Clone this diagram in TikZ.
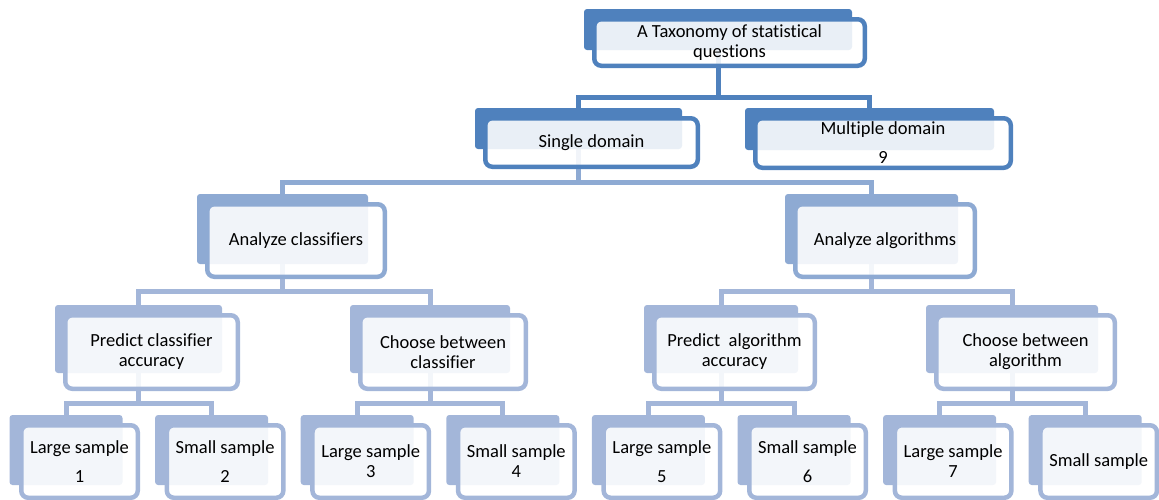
\documentclass[tikz,border=0pt]{standalone}
\usepackage{fontspec}
\setmainfont{Carlito}[Ligatures=CommonOff]
\definecolor{cA}{HTML}{4F81BD}
\definecolor{cB}{HTML}{8EAAD3}
\definecolor{cC}{HTML}{A3B6D9}
\newcommand\tbk[6]{\node[backbox=#6, minimum width={#4-#2}, minimum height={#5-#3}] (#1) at ({(#2+#4)/2},{(#3+#5)/2}) {};}
\newcommand\tfr[7]{\node[frontbox=#6, minimum width={#4-#2-4.5}, minimum height={#5-#3-4.5}] (#1) at ({(#2+#4)/2},{(#3+#5)/2}) {#7};}
\begin{document}
\begin{tikzpicture}[x=1pt,y=-1pt,
  backbox/.style={draw=none, fill=#1, rounded corners=3pt, inner sep=0pt, outer sep=0pt},
  frontbox/.style={draw=#1, line width=4.5pt, fill=white, fill opacity=0.88, draw opacity=1, text opacity=1,
    rounded corners=7pt, inner sep=0pt, outer sep=0pt, align=center, text=black,
    font=\fontsize{18.5}{20}\selectfont},
  conn/.style={draw=#1, line width=5pt},
]
\useasboundingbox (0,0) rectangle (1159,499);
% back shapes
\tbk{b0}{584}{9}{852}{50}{cA}
\tbk{b1}{475}{108}{682}{149}{cA}
\tbk{b2}{745}{108}{994}{150}{cA}
\tbk{b3}{197}{194}{368}{264}{cB}
\tbk{b4}{785}{194}{958}{264}{cB}
\tbk{b5}{55}{305}{222}{373}{cC}
\tbk{b6}{350}{305}{510}{373}{cC}
\tbk{b7}{644}{305}{798}{373}{cC}
\tbk{b8}{926}{305}{1098}{373}{cC}
\tbk{b9}{9.5}{415}{122.5}{485}{cC}
\tbk{b10}{155.1}{415}{268.1}{485}{cC}
\tbk{b11}{300.7}{415}{413.7}{485}{cC}
\tbk{b12}{446.3}{415}{559.3}{485}{cC}
\tbk{b13}{591.9}{415}{704.9}{485}{cC}
\tbk{b14}{737.5}{415}{850.5}{485}{cC}
\tbk{b15}{883.1}{415}{996.1}{485}{cC}
\tbk{b16}{1028.7}{415}{1141.7}{485}{cC}
% junctions
\path (b0.south) ++(0,47) coordinate (j0);
\path (b1.south) ++(0,33) coordinate (j1);
\path (b3.south) ++(0,27) coordinate (j2);
\path (b4.south) ++(0,27) coordinate (j3);
\path (b5.south) ++(0,30) coordinate (j4);
\path (b6.south) ++(0,30) coordinate (j5);
\path (b7.south) ++(0,30) coordinate (j6);
\path (b8.south) ++(0,30) coordinate (j7);
% connectors
\draw[conn=cA] (b0.south) -- (j0);
\draw[conn=cA] (b1.north) |- (j0) -| (b2.north);
\draw[conn=cB] (b1.south) -- (j1);
\draw[conn=cB] (b3.north) |- (j1) -| (b4.north);
\draw[conn=cC] (b3.south) -- (j2);
\draw[conn=cC] (b5.north) |- (j2) -| (b6.north);
\draw[conn=cC] (b4.south) -- (j3);
\draw[conn=cC] (b7.north) |- (j3) -| (b8.north);
\draw[conn=cC] (b5.south) -- (j4);
\draw[conn=cC] (b9.north) |- (j4) -| (b10.north);
\draw[conn=cC] (b6.south) -- (j5);
\draw[conn=cC] (b11.north) |- (j5) -| (b12.north);
\draw[conn=cC] (b7.south) -- (j6);
\draw[conn=cC] (b13.north) |- (j6) -| (b14.north);
\draw[conn=cC] (b8.south) -- (j7);
\draw[conn=cC] (b15.north) |- (j7) -| (b16.north);
% front shapes
\tfr{f0}{592}{17}{867}{68}{cA}{A Taxonomy of statistical\\questions}
\tfr{f1}{483}{116}{700}{169}{cA}{Single domain}
\tfr{f2}{753}{116}{1013}{170}{cA}{Multiple domain\\[9pt]9}
\tfr{f3}{205}{202}{387}{279}{cB}{Analyze classifiers}
\tfr{f4}{793}{202}{977}{279}{cB}{Analyze algorithms}
\tfr{f5}{63}{313}{240}{391}{cC}{Predict classifier\\accuracy}
\tfr{f6}{358}{313}{528}{391}{cC}{Choose between\\classifier}
\tfr{f7}{652}{313}{817}{391}{cC}{Predict\ \ algorithm\\accuracy}
\tfr{f8}{934}{313}{1117}{391}{cC}{Choose between\\algorithm}
\tfr{f9}{19}{423}{140}{500}{cC}{Large sample\\[9pt]1}
\tfr{f10}{164.6}{423}{285.6}{500}{cC}{Small sample\\[9pt]2}
\tfr{f11}{310.2}{423}{431.2}{500}{cC}{Large sample\\3}
\tfr{f12}{455.8}{423}{576.8}{500}{cC}{Small sample\\4}
\tfr{f13}{601.4}{423}{722.4}{500}{cC}{Large sample\\[9pt]5}
\tfr{f14}{747}{423}{868}{500}{cC}{Small sample\\[9pt]6}
\tfr{f15}{892.6}{423}{1013.6}{500}{cC}{Large sample\\7}
\tfr{f16}{1038.2}{423}{1159.2}{500}{cC}{Small sample}
\end{tikzpicture}
\end{document}
